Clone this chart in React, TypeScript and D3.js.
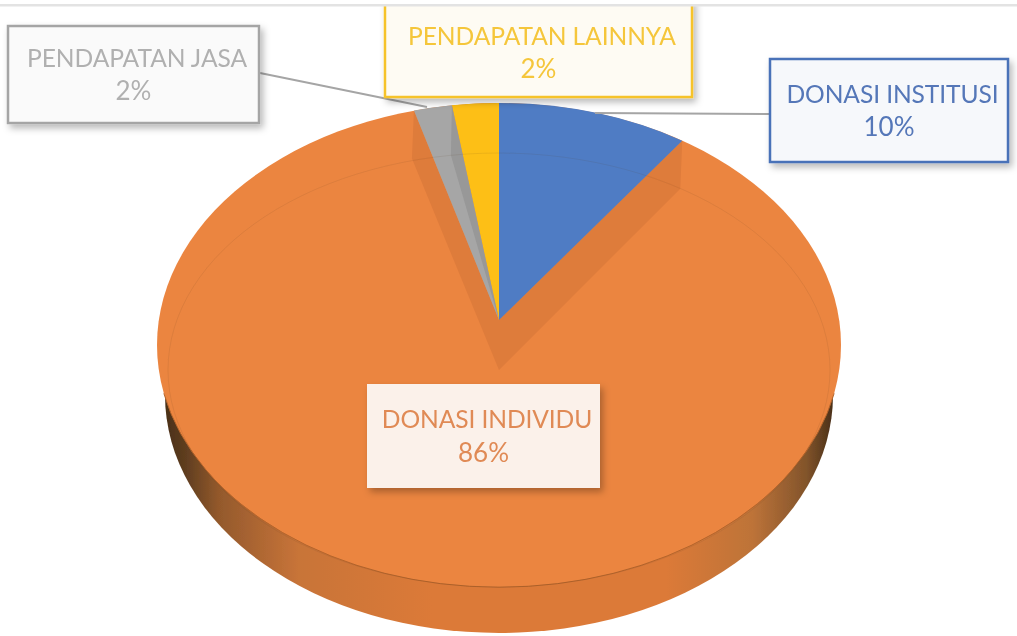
import React from "react";
import * as d3 from "d3";

const categories = ["DONASI INSTITUSI", "DONASI INDIVIDU", "PENDAPATAN JASA", "PENDAPATAN LAINNYA"];
const percentLabels = ["10%", "86%", "2%", "2%"];
// Drawn shares as they appear in the projected picture
const drawnShares = [9, 87, 1.8, 2.2];
const sliceColors = ["#4f7cc4", "#eb8540", "#a6a6a6", "#fdbf12"];
const textColors = ["#5477b8", "#e08a55", "#b0b0b0", "#f5c63a"];
const borderColors = ["#4a72b8", "none", "#a5a5a5", "#f6c32c"];
const boxFills = ["#f6f8fb", "#fbf1ea", "#fafafa", "#fefbf3"];
const boxes = [
  [770, 59, 238, 103],
  [367, 384, 233, 104],
  [8, 26, 251, 97],
  [385, 0, 307, 97],
];
const nameBaselines = [44, 44, 41, 45];
const percentBaselines = [77, 78, 74, 78];

const cx = 499, cy = 345, rx = 342, ry = 242;
const apex = { x: 499, y: 320 };
const bevel = 48;

const rim = (a: number) => ({ x: cx + rx * Math.sin(a), y: cy - ry * Math.cos(a) });

export default function App() {
  const arcs = d3.pie<number>().sort(null)(drawnShares);
  const wedge = (a0: number, a1: number) => {
    const p0 = rim(a0), p1 = rim(a1);
    return `M${apex.x},${apex.y}L${p0.x},${p0.y}A${rx},${ry} 0 0 1 ${p1.x},${p1.y}Z`;
  };
  const bevelPoly = (a: number) => {
    const p = rim(a);
    return `${p.x},${p.y} ${p.x - 2},${p.y + bevel} ${apex.x},${apex.y + bevel + 2} ${apex.x},${apex.y}`;
  };
  const yellowEdge = rim(arcs[3].startAngle);
  const fontFamily = "Lato, Carlito, 'Open Sans', sans-serif";
  return (
    <svg width={1017} height={636} style={{ position: "absolute", left: 0, top: 0, background: "#fff" }}>
      <defs>
        <linearGradient id="wall" x1="0" x2="1" y1="0" y2="0">
          <stop offset="0" stopColor="#4a3018" />
          <stop offset="0.03" stopColor="#5e3d1f" />
          <stop offset="0.08" stopColor="#93592c" />
          <stop offset="0.2" stopColor="#c87439" />
          <stop offset="0.4" stopColor="#dc7a39" />
          <stop offset="0.75" stopColor="#dc7a39" />
          <stop offset="0.88" stopColor="#bd7339" />
          <stop offset="0.96" stopColor="#82542b" />
          <stop offset="1" stopColor="#4a3018" />
        </linearGradient>
        <filter id="shadow" x="-10%" y="-10%" width="125%" height="130%">
          <feDropShadow dx="3" dy="4" stdDeviation="3.5" floodColor="#000" floodOpacity="0.28" />
        </filter>
        <filter id="soft" x="-5%" y="-5%" width="110%" height="110%">
          <feGaussianBlur stdDeviation="0.5" />
        </filter>
      </defs>
      <g filter="url(#soft)">
        <ellipse cx={cx} cy={395} rx={334} ry={238} fill="url(#wall)" />
        <ellipse cx={cx} cy={cy} rx={rx} ry={ry} fill="#eb8540" />
        <path
          d={`M${cx - rx * 0.98},${cy + ry * 0.2}A${rx},${ry} 0 0 0 ${cx + rx * 0.98},${cy + ry * 0.2}`}
          fill="none"
          stroke="#b5652c"
          strokeWidth={1}
        />
        {[0, 1].map((i) => (
          <polygon key={i} points={bevelPoly(i === 0 ? arcs[0].endAngle : arcs[2].startAngle)} fill="#de7b3a" />
        ))}
        {arcs.map((d, i) =>
          i === 1 ? null : (
            <path key={categories[i]} d={wedge(d.startAngle, d.endAngle)} fill={sliceColors[i]} />
          )
        )}
        <polygon
          points={`${yellowEdge.x},${yellowEdge.y} ${apex.x},${apex.y} ${yellowEdge.x - 1},${yellowEdge.y + 50}`}
          fill="#989898"
        />
        <ellipse cx={cx} cy={370} rx={331} ry={217} fill="none" stroke="#5b3a1c" strokeOpacity={0.1} strokeWidth={1} />
      </g>
      <line x1={260} y1={73} x2={427} y2={107} stroke="#a5a5a5" strokeWidth={2} />
      <line x1={595} y1={113} x2={770} y2={114} stroke="#a5a5a5" strokeWidth={2} />
      {boxes.map(([x, y, w, h], i) => (
        <g key={categories[i]}>
          <rect
            x={x}
            y={y}
            width={w}
            height={h}
            fill={boxFills[i]}
            stroke={borderColors[i]}
            strokeWidth={2.5}
            filter="url(#shadow)"
          />
          <g filter="url(#soft)">
            <text
              x={x + w / 2 + 3.5}
              y={y + nameBaselines[i]}
              textAnchor="middle"
              fontFamily={fontFamily}
              fontSize={24.6}
              letterSpacing={-0.1}
              fill={textColors[i]}
            >
              {categories[i]}
            </text>
            <text
              x={x + w / 2}
              y={y + percentBaselines[i]}
              textAnchor="middle"
              fontFamily={fontFamily}
              fontSize={26}
              fill={textColors[i]}
            >
              {percentLabels[i]}
            </text>
          </g>
        </g>
      ))}
      <rect x={0} y={0} width={1017} height={4} fill="#fff" />
      <rect x={0} y={4} width={1017} height={2.5} fill="#e3e3e3" />
    </svg>
  );
}
